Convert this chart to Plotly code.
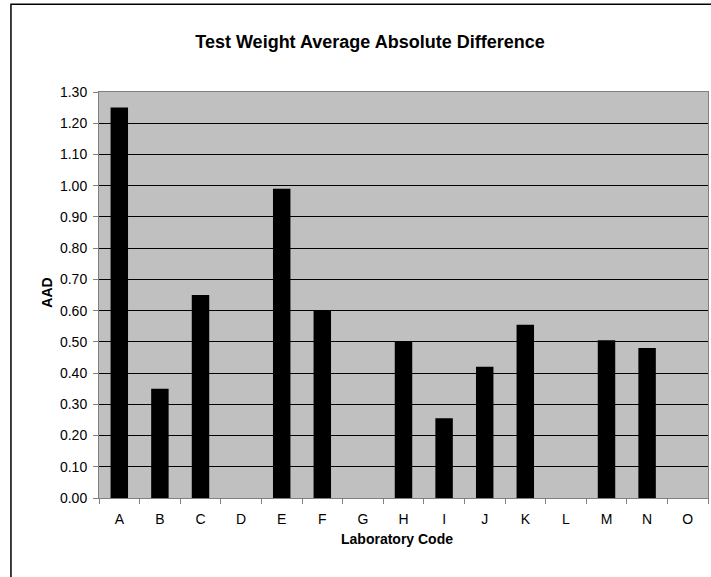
import plotly.graph_objects as go

labs = list("ABCDEFGHIJKLMNO")
aad = [1.25, 0.35, 0.65, 0, 0.99, 0.60, 0, 0.50, 0.255, 0.42, 0.555, 0, 0.505, 0.48, 0]
y_ticks = [round(i * 0.1, 2) for i in range(14)]

FONT = "Liberation Sans, Arial, sans-serif"

# plot area in pixels (from the reference)
L, R, T, B = 99, 707.7, 92.3, 498.3
W, H = R - L, B - T

fig = go.Figure(go.Bar(x=labs, y=aad, marker=dict(color="black", line=dict(width=0)), width=0.43))

fig.update_layout(
    width=711, height=577,
    margin=dict(l=L, r=711 - R, t=T, b=577 - B),
    paper_bgcolor="white", plot_bgcolor="#c0c0c0",
    font=dict(family=FONT, size=14, color="black"),
    showlegend=False,
    title=dict(text="<b>Test Weight Average Absolute Difference</b>", font=dict(size=18),
               xref="container", x=370 / 711, y=1 - 42 / 577, xanchor="center", yanchor="middle"),
)
fig.update_xaxes(showline=True, linecolor="#808080", mirror=True, ticks="outside", ticklen=5,
                 tickcolor="#808080", tickson="boundaries", showgrid=False, ticklabelstandoff=8)
fig.update_yaxes(range=[0, 1.3], tickvals=y_ticks, tickformat=".2f", showline=True, linecolor="#808080",
                 mirror=True, ticks="outside", ticklen=5, tickcolor="#808080", gridcolor="black",
                 gridwidth=1, zeroline=False, ticklabelstandoff=3)

fig.add_annotation(text="<b>AAD</b>", xref="paper", yref="paper", x=(37 - L) / W, y=(B - 293) / H,
                   textangle=-90, showarrow=False, font=dict(size=14))
fig.add_annotation(text="<b>Laboratory Code</b>", xref="paper", yref="paper", x=(397 - L) / W,
                   y=(B - 549) / H, showarrow=False, font=dict(size=14))

# outer chart frame (runs off the right and bottom edges)
fig.add_shape(type="rect", xref="paper", yref="paper", x0=(11 - L) / W, x1=1.05,
              y0=-0.3, y1=(B - 4.5) / H, line=dict(color="black", width=1.5), layer="below")

fig.write_html("out.html", config={"displayModeBar": False},
               post_script="document.body.style.margin='0';")
